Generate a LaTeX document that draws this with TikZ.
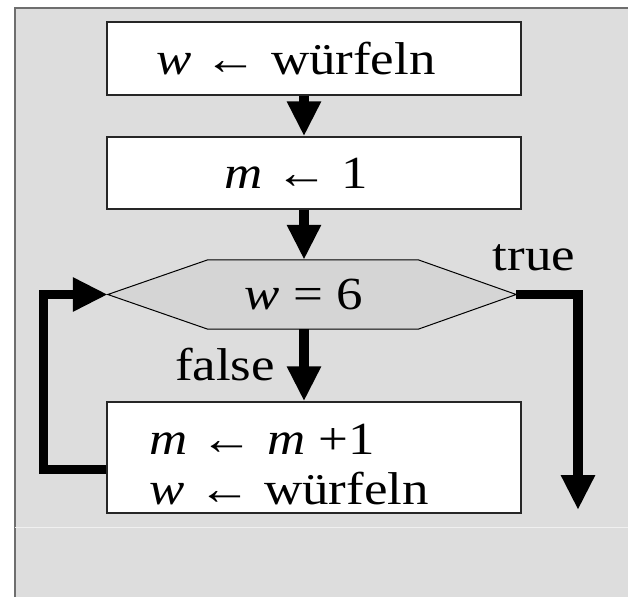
\documentclass[tikz,border=0pt]{standalone}
\usepackage{fontspec}
\setmainfont{Liberation Serif}
\usetikzlibrary{arrows.meta,positioning}
\definecolor{flbg}{RGB}{221,221,221}
\definecolor{flhex}{RGB}{213,213,213}
\definecolor{flframe}{RGB}{110,110,110}

\begin{document}
\begin{tikzpicture}[x=1pt, y=1pt,
  box/.style={draw=black!85, line width=1.4pt, fill=white, minimum width=414pt, inner sep=0pt},
  txt/.style={font=\fontsize{46}{50}\selectfont, xscale=1.15, transform shape, inner sep=0pt},
  flow/.style={line width=9.5pt, -{Triangle[length=35pt,width=32pt]}}]
  \useasboundingbox (0,0) rectangle (628,-597);

  % frame
  \fill[flbg] (15,-8) rectangle (628,-597);
  \draw[flframe, line width=1.5pt] (15,-597) -- (15,-8) -- (628,-8);
  \draw[white!55!flbg, line width=1pt] (15,-527) -- (628,-527);

  % steps
  \node[box, minimum height=73pt, label={[xshift=-18pt, txt]center:\textit{w} ← würfeln}] (roll) at (314,-58.5) {};
  \node[box, minimum height=72pt, label={[xshift=-18pt, txt]center:\textit{m} ← 1}] (count) at (314,-173) {};

  % test (hexagon round the node)
  \node[minimum width=408pt, minimum height=69pt, inner sep=0pt] (test) at (312,-294.5) {};
  \filldraw[fill=flhex, line width=1pt] (test.west) -- ([xshift=100pt]test.north west) -- ([xshift=-98pt]test.north east)
    -- (test.east) -- ([xshift=-98pt]test.south east) -- ([xshift=100pt]test.south west) -- cycle;
  \node[txt] (cond) at ([xshift=-8pt]test.center) {\textit{w} = 6};

  \node[box, minimum height=111pt, label={[xshift=43pt, yshift=-7pt, anchor=west, txt, align=left]west:\textit{m} ← \textit{m} +1\\\textit{w} ← würfeln}] (step) at (314,-457.5) {};

  \node[txt] (yes) at (534,-258) {true};
  \node[txt] (no) at (225,-365) {false};
  \coordinate (done) at (578,-510);

  % connectors
  \draw[flow] ([xshift=-10pt]roll.south) -- ([xshift=-10pt]count.north);
  \draw[flow] ([xshift=-10pt]count.south) -- ([xshift=-8pt]test.north);
  \draw[flow] ([xshift=-8pt]test.south) -- ([xshift=-10pt]step.north);
  \draw[flow] (test.east) -| (done);
  \draw[flow] ([yshift=-12pt]step.west) -- ++(-63,0) |- (test.west);
\end{tikzpicture}
\end{document}
